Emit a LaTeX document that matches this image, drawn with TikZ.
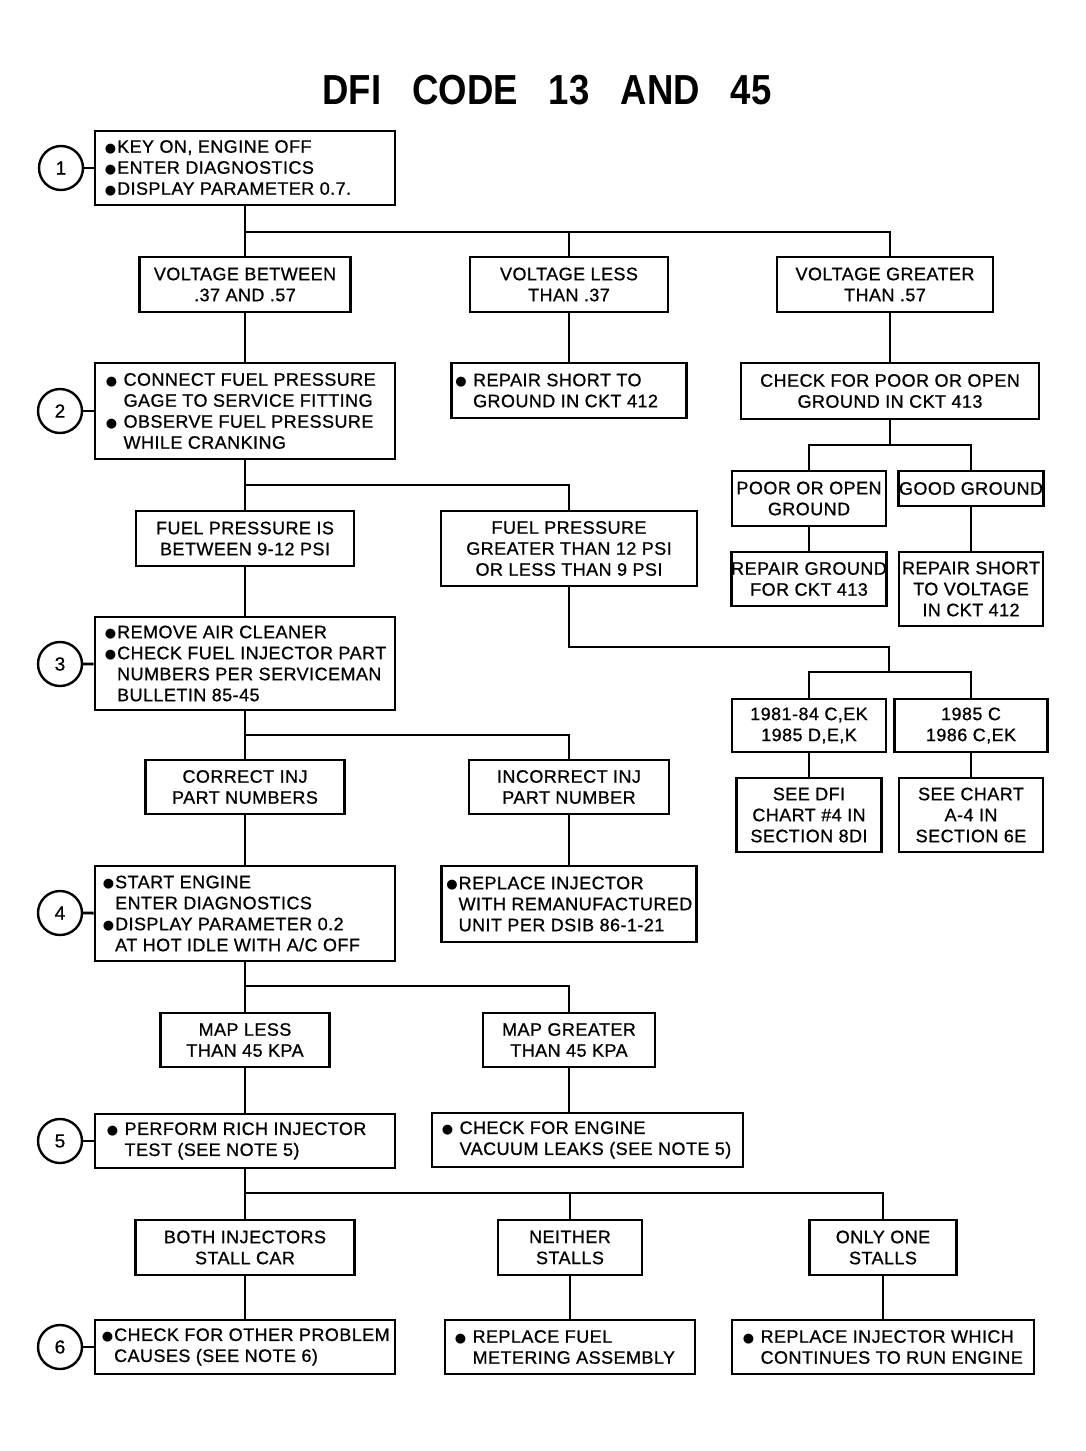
\documentclass[tikz,border=0pt]{standalone}
\usepackage{fontspec}
\newfontfamily\chartfont[LetterSpace=2.5,FakeBold=0.8]{Liberation Sans}
\newfontfamily\headfont[FakeStretch=0.87]{Liberation Sans Bold}
\newfontfamily\dotfont{DejaVu Sans}
\newcommand{\bul}{\raisebox{0.5pt}{\dotfont\fontsize{13pt}{13pt}\selectfont ●}\kern1pt}
\newcommand{\sk}{\hphantom{\bul}}
\newcommand{\skk}{\hphantom{\bul\ }}
\tikzset{
  box/.style={draw=black, line width=2.8pt, inner sep=0pt, align=center,
    font=\chartfont\fontsize{18pt}{21pt}\selectfont},
  frame/.style={draw=black, line width=2.8pt, inner sep=0pt},
  txt/.style={anchor=west, inner sep=0pt, align=left,
    font=\chartfont\fontsize{18pt}{21pt}\selectfont},
  wh/.style 2 args={minimum width=#1pt, minimum height=#2pt},
  num/.style={circle, draw=black, line width=2.4pt, minimum size=44pt, inner sep=0pt,
    font=\chartfont\fontsize{19pt}{21pt}\selectfont},
  link/.style={line width=2.8pt},
}
\begin{document}
\begin{tikzpicture}[x=1pt,y=-1pt]
  % page
  \fill[white] (0,0) rectangle (1086,1451);
  \useasboundingbox (0,0) rectangle (1086,1451);
  % title
  \node (title) at (547,90) {\headfont\fontsize{42pt}{42pt}\selectfont
    DFI\hspace{31pt}CODE\hspace{31pt}13\hspace{31pt}AND\hspace{31pt}45};
  % step 1
  \node[num] (c1) at (61,168) {1};
  \node[frame, wh={300}{74}] (k1) at (245,168) {};
  \node[txt] (k1t) at ([xshift=11pt]k1.west)
    {\bul KEY ON, ENGINE OFF\\\bul ENTER DIAGNOSTICS\\\bul DISPLAY PARAMETER 0.7.};
  \node[box, wh={211}{55}] (vb) at (245,284.5) {VOLTAGE BETWEEN\\.37 AND .57};
  \node[box, wh={198}{55}] (vl) at (569,284.5) {VOLTAGE LESS\\THAN .37};
  \node[box, wh={216}{55}] (vg) at (885,284.5) {VOLTAGE GREATER\\THAN .57};
  % step 2
  \node[num] (c2) at (60,411) {2};
  \node[frame, wh={300}{96}] (k2) at (245,411) {};
  \node[txt] (k2t) at ([xshift=12pt]k2.west)
    {\bul\ CONNECT FUEL PRESSURE\\\skk GAGE TO SERVICE FITTING\\\bul\ OBSERVE FUEL PRESSURE\\\skk WHILE CRANKING};
  \node[frame, wh={235}{55}] (rs) at (569,390.5) {};
  \node[txt] (rst) at ([xshift=5pt]rs.west) {\bul\ REPAIR SHORT TO\\\skk GROUND IN CKT 412};
  \node[box, wh={298}{56}] (cg) at (890,391) {CHECK FOR POOR OR OPEN\\GROUND IN CKT 413};
  \node[box, wh={154}{55}] (po) at (809,498.5) {POOR OR OPEN\\GROUND};
  \node[box, wh={145}{35}] (gg) at (971,488.5) {GOOD GROUND};
  \node[box, wh={154}{54}] (rg) at (809,579) {REPAIR GROUND\\FOR CKT 413};
  \node[box, wh={144}{74}] (rv) at (971,589) {REPAIR SHORT\\TO VOLTAGE\\IN CKT 412};
  \node[box, wh={218}{55}] (fb) at (245,538.5) {FUEL PRESSURE IS\\BETWEEN 9-12 PSI};
  \node[box, wh={256}{75}] (fg) at (569,548.5) {FUEL PRESSURE\\GREATER THAN 12 PSI\\OR LESS THAN 9 PSI};
  \node[box, wh={154}{53}] (y1) at (809,725.5) {1981-84 C,EK\\1985 D,E,K};
  \node[box, wh={153}{53}] (y2) at (971,725.5) {1985 C\\1986 C,EK};
  \node[box, wh={145}{74}] (sd) at (809,815) {SEE DFI\\CHART \#4 IN\\SECTION 8DI};
  \node[box, wh={144}{74}] (sc) at (971,815) {SEE CHART\\A-4 IN\\SECTION 6E};
  % step 3
  \node[num] (c3) at (60,664) {3};
  \node[frame, wh={300}{93}] (k3) at (245,663.5) {};
  \node[txt] (k3t) at ([xshift=11pt]k3.west)
    {\bul REMOVE AIR CLEANER\\\bul CHECK FUEL INJECTOR PART\\\sk NUMBERS PER SERVICEMAN\\\sk BULLETIN 85-45};
  \node[box, wh={199}{54}] (ci) at (245,787) {CORRECT INJ\\PART NUMBERS};
  \node[box, wh={200}{54}] (ii) at (569,787) {INCORRECT INJ\\PART NUMBER};
  \node[frame, wh={255}{76}] (ri) at (569,904) {};
  \node[txt] (rit) at ([xshift=6pt]ri.west)
    {\bul REPLACE INJECTOR\\\sk WITH REMANUFACTURED\\\sk UNIT PER DSIB 86-1-21};
  % step 4
  \node[num] (c4) at (60,913) {4};
  \node[frame, wh={300}{95}] (k4) at (245,913.5) {};
  \node[txt] (k4t) at ([xshift=9pt]k4.west)
    {\bul START ENGINE\\\sk ENTER DIAGNOSTICS\\\bul DISPLAY PARAMETER 0.2\\\sk AT HOT IDLE WITH A/C OFF};
  \node[box, wh={169}{54}] (ml) at (245,1040) {MAP LESS\\THAN 45 KPA};
  \node[box, wh={172}{54}] (mg) at (569,1040) {MAP GREATER\\THAN 45 KPA};
  % step 5
  \node[num] (c5) at (60,1141) {5};
  \node[frame, wh={300}{54}] (k5) at (245,1141) {};
  \node[txt] (k5t) at ([xshift=13pt]k5.west) {\bul\ PERFORM RICH INJECTOR\\\skk TEST (SEE NOTE 5)};
  \node[frame, wh={311}{54}] (ce) at (587.5,1140) {};
  \node[txt] (cet) at ([xshift=11pt]ce.west) {\bul\ CHECK FOR ENGINE\\\skk VACUUM LEAKS (SEE NOTE 5)};
  \node[box, wh={219}{55}] (bs) at (245,1247.5) {BOTH INJECTORS\\STALL CAR};
  \node[box, wh={144}{55}] (ns) at (570,1247.5) {NEITHER\\STALLS};
  \node[box, wh={147}{55}] (os) at (883,1247.5) {ONLY ONE\\STALLS};
  % step 6
  \node[num] (c6) at (60,1347) {6};
  \node[frame, wh={300}{54}] (k6) at (245,1347) {};
  \node[txt] (k6t) at ([xshift=8pt]k6.west) {\bul CHECK FOR OTHER PROBLEM\\\sk CAUSES (SEE NOTE 6)};
  \node[frame, wh={250}{54}] (rf) at (570,1347) {};
  \node[txt] (rft) at ([xshift=11pt]rf.west) {\bul\ REPLACE FUEL\\\skk METERING ASSEMBLY};
  \node[frame, wh={302}{54}] (rw) at (883,1347) {};
  \node[txt] (rwt) at ([xshift=12pt]rw.west) {\bul\ REPLACE INJECTOR WHICH\\\skk CONTINUES TO RUN ENGINE};
  % junctions
  \coordinate (j1) at (245,232);
  \coordinate (j2) at (890,445);
  \coordinate (j3) at (245,485);
  \coordinate (j4) at (889,647);
  \coordinate (j5) at (889,672);
  \coordinate (j6) at (245,735);
  \coordinate (j7) at (245,986);
  \coordinate (j8) at (245,1193);
  % links
  \foreach \c/\k in {c1/k1,c2/k2,c3/k3,c4/k4,c5/k5,c6/k6}
    \draw[link] (\c) -- (\k);
  \foreach \a/\b in {k1/vb,vb/k2,vl/rs,k2/fb,fb/k3,po/rg,gg/rv,y1/sd,y2/sc,
                     k3/ci,ci/k4,ii/ri,k4/ml,ml/k5,k5/bs,bs/k6,ns/rf,os/rw}
    \draw[link] (\a) -- (\b);
  \draw[link] (j1) -| (vl.north);
  \draw[link] (j1) -| (vg.north -| cg.north);
  \draw[link] (vg.south -| cg.north) -- (cg.north);
  \draw[link] (cg) -- (j2);
  \draw[link] (po.north) |- (j2) -| (gg.north);
  \draw[link] (j3) -| (fg.north);
  \draw[link] (fg.south) |- (j4) -- (j5);
  \draw[link] (y1.north) |- (j5) -| (y2.north);
  \draw[link] (j6) -| (ii.north);
  \draw[link] (j7) -| (mg.north);
  \draw[link] (mg.south) -- (mg.south |- ce.north);
  \draw[link] (j8) -| (ns.north);
  \draw[link] (j8) -| (os.north);
\end{tikzpicture}
\end{document}
